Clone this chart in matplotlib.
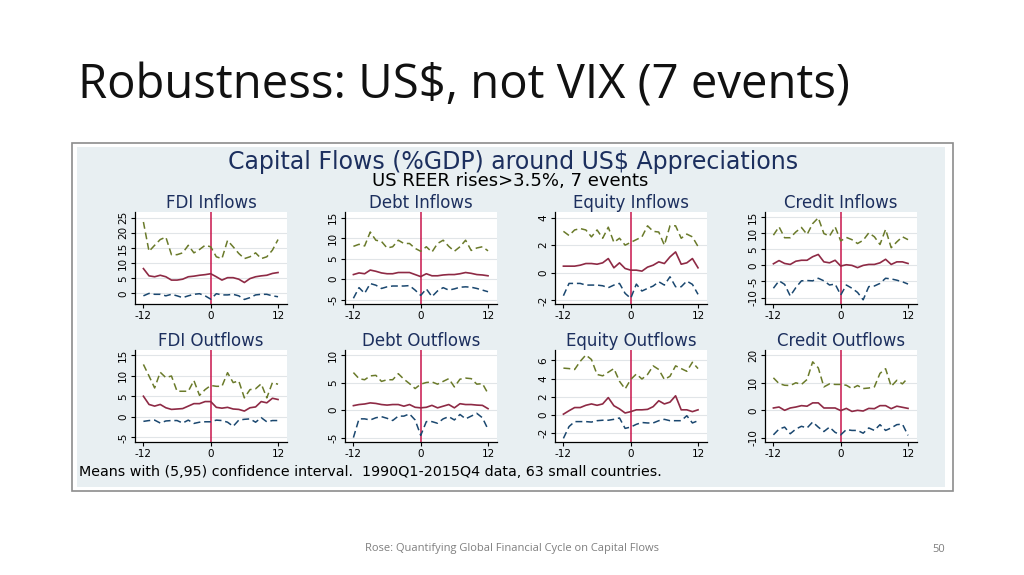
import numpy as np
import matplotlib.pyplot as plt
from matplotlib.patches import Rectangle

# kwartaly wokol zdarzenia
t = list(range(-12, 13))

# dane: gorna granica (95), srednia, dolna granica (5)
fdi_in_hi = [23.6, 13.9, 15.9, 17.8, 18.6, 12.8, 12.8, 13.4, 15.9, 13.4, 14.5, 15.9, 15.4,
             12.1, 11.5, 17.5, 15.4, 13.2, 11.5, 12.1, 13.4, 11.5, 12.1, 14.3, 17.8]
fdi_in_mean = [8.2, 5.8, 5.5, 6.0, 5.5, 4.4, 4.4, 4.7, 5.5, 5.7, 6.0, 6.2, 6.5,
               5.5, 4.4, 5.2, 5.2, 4.7, 3.6, 4.9, 5.5, 5.8, 6.0, 6.6, 6.9]
fdi_in_lo = [-0.8, 0.0, -0.3, -0.3, -0.8, -0.3, -0.8, -1.4, -0.8, -0.3, -0.1, -0.8, -1.9,
             -0.1, -0.5, -0.5, -0.3, -0.8, -2.0, -1.4, -0.5, -0.3, -0.3, -0.8, -1.1]

debt_in_hi = [8.0, 8.5, 8.1, 11.5, 9.5, 9.2, 7.6, 7.9, 9.5, 8.7, 8.7, 7.5, 6.8,
              7.9, 6.6, 8.7, 9.5, 8.0, 6.8, 7.9, 9.5, 7.0, 7.6, 7.9, 6.9]
debt_in_mean = [1.1, 1.5, 1.3, 2.2, 1.9, 1.5, 1.3, 1.3, 1.6, 1.6, 1.6, 1.1, 0.6,
                1.3, 0.8, 0.8, 1.0, 1.1, 1.1, 1.3, 1.6, 1.4, 1.1, 1.0, 0.8]
debt_in_lo = [-4.7, -2.1, -3.5, -1.1, -1.5, -2.3, -1.9, -1.7, -1.7, -1.7, -1.6, -2.7, -4.0,
              -2.4, -4.3, -2.9, -2.1, -2.7, -2.4, -2.0, -1.9, -2.0, -2.3, -2.7, -3.1]

eq_in_hi = [3.0, 2.7, 3.1, 3.2, 3.1, 2.6, 3.1, 2.5, 3.3, 2.2, 2.5, 2.0, 2.2,
            2.4, 2.6, 3.4, 3.0, 2.95, 2.0, 3.4, 3.4, 2.5, 2.8, 2.6, 1.9]
eq_in_mean = [0.48, 0.48, 0.48, 0.55, 0.67, 0.67, 0.62, 0.72, 1.03, 0.36, 0.72, 0.31, 0.19,
              0.19, 0.12, 0.41, 0.55, 0.79, 0.67, 1.15, 1.51, 0.62, 0.72, 1.03, 0.36]
eq_in_lo = [-1.66, -0.77, -0.77, -0.77, -0.89, -0.89, -0.89, -0.94, -1.08, -0.89, -0.77, -1.49, -1.85,
            -0.82, -1.32, -1.13, -0.96, -0.65, -0.89, -0.29, -1.01, -1.01, -0.6, -0.84, -1.56]

cr_in_hi = [9.4, 12.0, 8.6, 8.6, 10.4, 11.8, 9.6, 13.0, 14.8, 9.9, 9.1, 12.0, 7.6,
            8.7, 8.0, 6.8, 7.8, 10.1, 8.9, 6.5, 11.2, 5.5, 7.3, 8.9, 8.0]
cr_in_mean = [0.5, 1.5, 0.6, 0.3, 1.3, 1.6, 1.6, 2.7, 3.4, 1.1, 0.8, 1.6, -0.2,
              0.2, 0.0, -0.7, 0.0, 0.3, 0.3, 0.8, 1.9, 0.3, 1.1, 1.1, 0.6]
cr_in_lo = [-7.1, -4.8, -5.9, -9.5, -6.9, -4.8, -4.7, -4.8, -4.0, -4.8, -6.1, -5.8, -9.2,
            -6.1, -7.1, -8.4, -10.7, -6.6, -6.4, -5.6, -4.0, -4.2, -4.6, -5.1, -5.8]

fdi_out_hi = [12.7, 9.9, 7.0, 10.8, 9.5, 9.9, 6.2, 6.2, 6.2, 8.8, 5.2, 6.6, 7.6,
              7.4, 7.4, 10.7, 8.3, 8.7, 4.6, 6.6, 6.8, 8.0, 4.6, 8.3, 7.9]
fdi_out_mean = [5.0, 3.0, 2.6, 3.0, 2.2, 1.8, 1.9, 2.0, 2.6, 3.2, 3.2, 3.7, 3.7,
                2.3, 2.1, 2.3, 1.9, 1.8, 1.4, 2.2, 2.4, 3.7, 3.4, 4.5, 4.2]
fdi_out_lo = [-1.1, -0.9, -0.8, -1.5, -1.0, -0.9, -0.9, -1.5, -0.8, -1.6, -1.3, -1.2, -1.2,
              -0.8, -0.9, -1.3, -2.3, -0.8, -0.6, -0.5, -1.3, -0.2, -1.2, -0.9, -0.9]

debt_out_hi = [6.8, 5.7, 5.5, 6.2, 6.3, 5.2, 5.5, 5.5, 6.6, 5.6, 4.8, 3.9, 4.7,
               5.0, 5.1, 4.7, 5.2, 5.7, 4.2, 5.6, 5.8, 5.7, 4.7, 4.8, 3.0]
debt_out_mean = [0.8, 1.0, 1.1, 1.3, 1.2, 1.0, 0.9, 1.0, 1.0, 0.7, 1.0, 0.5, 0.4,
                 0.5, 0.85, 0.4, 0.7, 1.0, 0.4, 1.15, 1.0, 1.0, 0.9, 0.85, 0.25]
debt_out_lo = [-5.0, -1.6, -1.6, -1.8, -1.4, -1.2, -1.5, -1.9, -1.1, -1.1, -0.7, -1.8, -4.6,
               -2.1, -2.1, -2.4, -1.6, -1.2, -1.8, -0.8, -1.6, -1.1, -0.6, -1.4, -3.5]

eq_out_hi = [5.15, 5.1, 5.0, 5.9, 6.6, 6.1, 4.45, 4.3, 4.7, 5.1, 3.7, 2.85, 3.9,
             4.5, 3.95, 4.45, 5.4, 5.0, 3.9, 4.25, 5.4, 5.1, 4.8, 5.8, 5.1]
eq_out_mean = [0.07, 0.45, 0.8, 0.8, 1.05, 1.2, 1.05, 1.2, 1.9, 1.0, 0.65, 0.2, 0.35,
               0.55, 0.55, 0.6, 0.9, 1.55, 1.2, 1.4, 2.1, 0.55, 0.55, 0.35, 0.55]
eq_out_lo = [-2.6, -1.3, -0.75, -0.75, -0.75, -0.8, -0.65, -0.6, -0.6, -0.5, -0.35, -1.5, -1.35,
             -1.05, -0.85, -0.9, -0.9, -0.65, -0.5, -0.65, -0.65, -0.65, -0.1, -0.9, -0.65]

cr_out_hi = [11.8, 9.7, 9.1, 9.0, 10.0, 9.4, 11.2, 17.6, 15.4, 8.5, 9.6, 9.4, 9.4,
             9.1, 7.9, 9.0, 7.9, 8.1, 8.5, 13.4, 15.1, 8.7, 10.9, 9.6, 11.8]
cr_out_mean = [0.85, 1.2, 0.0, 0.85, 1.2, 1.7, 1.5, 2.7, 2.7, 0.85, 0.85, 0.85, -0.1,
               0.7, -0.4, 0.0, -0.25, 0.7, 0.6, 1.7, 1.7, 0.6, 1.5, 1.1, 0.7]
cr_out_lo = [-8.9, -6.8, -6.1, -8.5, -6.8, -5.8, -6.4, -4.25, -6.1, -7.7, -6.1, -8.0, -8.9,
             -7.0, -7.3, -7.3, -8.3, -6.4, -7.3, -5.2, -7.3, -6.4, -5.2, -5.0, -9.1]

tytuly = ['FDI Inflows', 'Debt Inflows', 'Equity Inflows', 'Credit Inflows',
          'FDI Outflows', 'Debt Outflows', 'Equity Outflows', 'Credit Outflows']
dane = [(fdi_in_hi, fdi_in_mean, fdi_in_lo), (debt_in_hi, debt_in_mean, debt_in_lo),
        (eq_in_hi, eq_in_mean, eq_in_lo), (cr_in_hi, cr_in_mean, cr_in_lo),
        (fdi_out_hi, fdi_out_mean, fdi_out_lo), (debt_out_hi, debt_out_mean, debt_out_lo),
        (eq_out_hi, eq_out_mean, eq_out_lo), (cr_out_hi, cr_out_mean, cr_out_lo)]
yticki = [[0, 5, 10, 15, 20, 25], [-5, 0, 5, 10, 15], [-2, 0, 2, 4], [-10, -5, 0, 5, 10, 15],
          [-5, 0, 5, 10, 15], [-5, 0, 5, 10], [-2, 0, 2, 4, 6], [-10, 0, 10, 20]]
ylimy = [(-3.5, 26.9), (-6.1, 16.4), (-2.26, 4.4), (-12.0, 16.6),
         (-6.1, 16.2), (-5.8, 10.9), (-3.0, 7.15), (-11.5, 21.9)]
xticki = [-12, 0, 12]

W, H = 1024, 575
fx = lambda x: x / W
fy = lambda y: 1 - y / H

fig = plt.figure(figsize=(10.24, 5.75), dpi=100)
fig.patch.set_facecolor('white')

# ramka obrazka ze Staty (pod osiami)
fig.patches.append(Rectangle((fx(71.5), fy(490.5)), (953 - 71.5) / W, (490.5 - 142.5) / H,
                             transform=fig.transFigure, facecolor='white', edgecolor='#8c8c8c',
                             lw=1.2, zorder=-2))
fig.patches.append(Rectangle((fx(77), fy(487)), (945 - 77) / W, (487 - 147) / H,
                             transform=fig.transFigure, facecolor='#e8eff2', edgecolor='none',
                             zorder=-1))

stata = ['DejaVu Sans']
granat = '#1c2f5e'

fig.text(fx(513), fy(162), 'Capital Flows (%GDP) around US$ Appreciations', ha='center', va='center',
         fontsize=17, color=granat, family=stata)
fig.text(fx(510), fy(181.5), 'US REER rises>3.5%, 7 events', ha='center', va='center',
         fontsize=13, color='black', family=stata)
fig.text(fx(79), fy(472), 'Means with (5,95) confidence interval.  1990Q1-2015Q4 data, 63 small countries.',
         ha='left', va='center', fontsize=10.3, color='black', family=stata)

lewe = [135, 345, 555, 765]
szer = 152
wiersze = [(212, 304), (350, 442)]

for k in range(8):
    r, c = divmod(k, 4)
    top, bot = wiersze[r]
    ax = fig.add_axes([fx(lewe[c]), fy(bot), szer / W, (bot - top) / H])
    ax.set_facecolor('white')
    hi, mean, lo = dane[k]
    for g in yticki[k]:
        ax.axhline(g, color='#e1e5e8', lw=0.8, zorder=0)
    ax.axvline(0, color='#c8154b', lw=1.1, zorder=1)
    ax.plot(t, hi, color='#6a7a2a', lw=1.1, dashes=(4.5, 2.5), zorder=2)
    ax.plot(t, mean, color='#8e2a45', lw=1.2, zorder=3)
    ax.plot(t, lo, color='#1a476f', lw=1.1, dashes=(4.5, 2.5), zorder=2)
    ax.set_xlim(-13.5, 13.6)
    ax.set_ylim(*ylimy[k])
    ax.set_xticks(xticki)
    ax.set_yticks(yticki[k])
    ax.set_yticklabels([str(v) for v in yticki[k]], rotation=90, va='center', family=stata)
    ax.set_xticklabels([str(v) for v in xticki], family=stata)
    ax.tick_params(labelsize=7.5, length=3, width=0.8, pad=2, colors='black')
    for s in ['top', 'right']:
        ax.spines[s].set_visible(False)
    for s in ['left', 'bottom']:
        ax.spines[s].set_linewidth(0.9)
    ax.set_title(tytuly[k], fontsize=12, color=granat, family=stata, pad=1.5)

# tekst slajdu
fig.text(fx(78), fy(86), 'Robustness: US$, not VIX (7 events)', ha='left', va='center',
         fontsize=34, color='#111111', family=['Open Sans', 'DejaVu Sans'])
fig.text(fx(512), fy(549), 'Rose: Quantifying Global Financial Cycle on Capital Flows', ha='center',
         va='center', fontsize=8, color='#7f7f7f', family=['Open Sans', 'DejaVu Sans'])
fig.text(fx(945), fy(549), '50', ha='right', va='center', fontsize=8, color='#7f7f7f',
         family=['Open Sans', 'DejaVu Sans'])

plt.savefig('out.png', dpi=100)
